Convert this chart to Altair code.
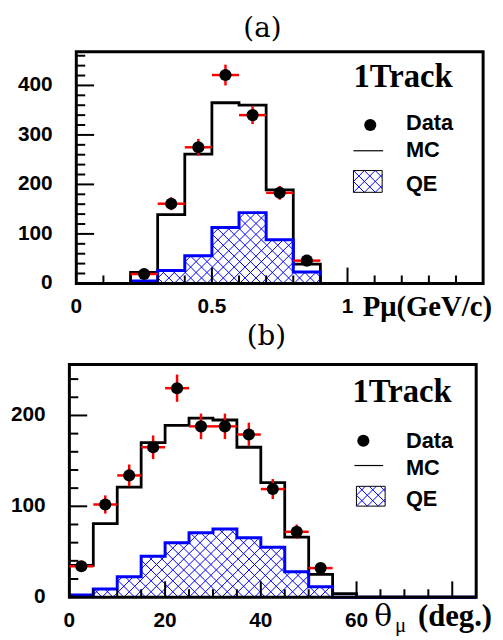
import altair as alt
import pandas as pd
import numpy as np

# ---------------- data : panel (a) ----------------
a_edges = [0.0, 0.1, 0.2, 0.3, 0.4, 0.5, 0.6, 0.7, 0.8, 0.9, 1.0, 1.1, 1.2, 1.3, 1.4, 1.5]
a_mc = [0, 0, 22, 139, 261, 365, 360, 189, 39, 0, 0, 0, 0, 0, 0]
a_qe = [0, 0, 5, 26, 56, 113, 143, 88, 23, 0, 0, 0, 0, 0, 0]
a_x = [0.25, 0.35, 0.45, 0.55, 0.65, 0.75, 0.85]
a_data = [19, 161, 275, 421, 340, 183, 46]
a_err = [4, 13, 17, 21, 18, 14, 7]
a_xtick_minor = [0.1, 0.2, 0.3, 0.4, 0.6, 0.7, 0.8, 0.9, 1.1, 1.2, 1.3, 1.4]
a_xtick_major = [0.5, 1.0]
a_ytick_minor = [20, 40, 60, 80, 120, 140, 160, 180, 220, 240, 260, 280,
                 320, 340, 360, 380, 420, 440, 460]
a_ytick_major = [100, 200, 300, 400]
a_xlab_val = [0, 0.5, 1.0]
a_xlab_txt = ["0", "0.5", "1"]
a_ylab_val = [0, 100, 200, 300, 400]
a_ylab_txt = ["0", "100", "200", "300", "400"]

# ---------------- data : panel (b) ----------------
b_edges = [0, 5, 10, 15, 20, 25, 30, 35, 40, 45, 50, 55, 60, 65, 70, 75, 80, 85]
b_mc = [35, 81, 121, 170, 189, 197, 195, 165, 126, 66, 25, 4, 0, 0, 0, 0, 0]
b_qe = [2.5, 9, 22.5, 45, 60, 71, 75, 65.5, 55, 28, 11.5, 0, 0, 0, 0, 0, 0]
b_x = [2.5, 7.5, 12.5, 17.5, 22.5, 27.5, 32.5, 37.5, 42.5, 47.5, 52.5]
b_data = [34, 102, 134, 165, 230, 188, 188, 179, 119, 72, 32]
b_err = [6, 10, 12, 13, 15, 14, 14, 13, 11, 8, 6]
b_xtick_minor = [5, 10, 15, 25, 30, 35, 45, 50, 55, 65, 70, 75]
b_xtick_major = [20, 40, 60, 80]
b_ytick_minor = [20, 40, 60, 80, 120, 140, 160, 180, 220, 240]
b_ytick_major = [100, 200]
b_xlab_val = [0, 20, 40, 60]
b_xlab_txt = ["0", "20", "40", "60"]
b_ylab_val = [0, 100, 200]
b_ylab_txt = ["0", "100", "200"]

SANS = "Liberation Sans"
SERIF = "Liberation Serif"
BLUE = "#0000ff"
RED = "#ff0000"

panels = [
    dict(name="a", L=69, R=480, T=41, B=275, xdom=[0, 1.5], ydom=[0, 468],
         edges=a_edges, mc=a_mc, qe=a_qe, px=a_x, py=a_data, pe=a_err, hw=0.05,
         xtmin=a_xtick_minor, xtmaj=a_xtick_major, ytmin=a_ytick_minor, ytmaj=a_ytick_major,
         xlv=a_xlab_val, xlt=a_xlab_txt, ylv=a_ylab_val, ylt=a_ylab_txt,
         label="(a)", label_pos=(257, 26), track_pos=(349, 77),
         leg=dict(dot=(366, 115), line=(349, 379, 141), box=(349, 378, 161, 183),
                  tx=402, ty=(120, 147, 182))),
    dict(name="b", L=62, R=473, T=357, B=592, xdom=[0, 85], ydom=[0, 256],
         edges=b_edges, mc=b_mc, qe=b_qe, px=b_x, py=b_data, pe=b_err, hw=2.5,
         xtmin=b_xtick_minor, xtmaj=b_xtick_major, ytmin=b_ytick_minor, ytmaj=b_ytick_major,
         xlv=b_xlab_val, xlt=b_xlab_txt, ylv=b_ylab_val, ylt=b_ylab_txt,
         label="(b)", label_pos=(261, 337), track_pos=(348, 395),
         leg=dict(dot=(359, 434), line=(350, 379, 459), box=(352, 381, 480, 500),
                  tx=402, ty=(441, 469, 500))),
]

one = pd.DataFrame({"k": [0]})


def xs(p, f="x"):
    return alt.X(f"{f}:Q", scale=alt.Scale(domain=p["xdom"], range=[p["L"], p["R"]],
                                           nice=False, zero=False), axis=None)


def ys(p, f="y"):
    return alt.Y(f"{f}:Q", scale=alt.Scale(domain=p["ydom"], range=[p["B"], p["T"]],
                                           nice=False, zero=False), axis=None)


def hatch_px(boxes, spacing):
    """boxes: list of (u0, u1, vt) in pixel units above a baseline; returns segments."""
    segs = []
    for (u0, u1, vt) in boxes:
        if vt <= 0:
            continue
        kmin = int(np.floor((u0 - vt) / spacing)) - 1
        kmax = int(np.ceil((u1 + vt) / spacing)) + 1
        for k in range(kmin, kmax + 1):
            c = k * spacing
            a, b = max(u0, c), min(u1, c + vt)          # v = u - c
            if b > a:
                segs.append((a, a - c, b, b - c))
            a, b = max(u0, c - vt), min(u1, c)          # v = c - u
            if b > a:
                segs.append((a, c - a, b, c - b))
    return segs


layers = []
for p in panels:
    L, R, T, B = p["L"], p["R"], p["T"], p["B"]
    sx = (R - L) / (p["xdom"][1] - p["xdom"][0])
    sy = (B - T) / (p["ydom"][1] - p["ydom"][0])

    # hatch of QE histogram (computed in pixel space for 45 deg lines, drawn via scales)
    boxes = [((p["edges"][i] - p["xdom"][0]) * sx, (p["edges"][i + 1] - p["xdom"][0]) * sx, v * sy)
             for i, v in enumerate(p["qe"])]
    segs = hatch_px(boxes, 11)
    hdf = pd.DataFrame([dict(x=p["xdom"][0] + a / sx, y=va / sy,
                             x2=p["xdom"][0] + b / sx, y2=vb / sy) for (a, va, b, vb) in segs])
    layers.append(alt.Chart(hdf).mark_rule(color=BLUE, strokeWidth=1).encode(
        x=xs(p), y=ys(p), x2="x2:Q", y2="y2:Q"))

    # MC histogram outline
    mdf = pd.DataFrame({"x": p["edges"], "y": p["mc"] + [p["mc"][-1]]})
    layers.append(alt.Chart(mdf).mark_line(interpolate="step-after", color="black",
                                           strokeWidth=2.8).encode(x=xs(p), y=ys(p)))
    # QE histogram outline
    qdf = pd.DataFrame({"x": p["edges"], "y": p["qe"] + [p["qe"][-1]]})
    layers.append(alt.Chart(qdf).mark_line(interpolate="step-after", color=BLUE,
                                           strokeWidth=3).encode(x=xs(p), y=ys(p)))

    # frame
    layers.append(alt.Chart(one).mark_rect(filled=False, stroke="black", strokeWidth=3).encode(
        x=alt.value(L), x2=alt.value(R), y=alt.value(T), y2=alt.value(B)))

    # inward ticks
    for vals, ln in ((p["xtmin"], 8), (p["xtmaj"], 16)):
        layers.append(alt.Chart(pd.DataFrame({"x": vals})).mark_rule(color="black", strokeWidth=2).encode(
            x=xs(p), y=alt.value(B), y2=alt.value(B - ln)))
    for vals, ln in ((p["ytmin"], 9), (p["ytmaj"], 18)):
        layers.append(alt.Chart(pd.DataFrame({"y": vals})).mark_rule(color="black", strokeWidth=2).encode(
            y=ys(p), x=alt.value(L), x2=alt.value(L + ln)))

    # tick labels
    layers.append(alt.Chart(pd.DataFrame({"x": p["xlv"], "t": p["xlt"]})).mark_text(
        font=SANS, fontWeight="bold", fontSize=21, align="center", baseline="top", color="black").encode(
        x=xs(p), y=alt.value(B + 13), text="t:N"))
    layers.append(alt.Chart(pd.DataFrame({"y": p["ylv"], "t": p["ylt"]})).mark_text(
        font=SANS, fontWeight="bold", fontSize=21, align="right", baseline="middle", color="black").encode(
        y=ys(p), x=alt.value(L - 24), text="t:N"))

    # data points with error bars
    ddf = pd.DataFrame({"x": p["px"], "y": p["py"], "e": p["pe"]})
    ddf["ylo"] = ddf["y"] - ddf["e"]
    ddf["yhi"] = ddf["y"] + ddf["e"]
    ddf["xlo"] = ddf["x"] - p["hw"]
    ddf["xhi"] = ddf["x"] + p["hw"]
    layers.append(alt.Chart(ddf).mark_rule(color=RED, strokeWidth=2.5).encode(
        x=xs(p, "xlo"), x2="xhi:Q", y=ys(p)))
    layers.append(alt.Chart(ddf).mark_rule(color=RED, strokeWidth=2.5).encode(
        x=xs(p), y=ys(p, "ylo"), y2="yhi:Q"))
    layers.append(alt.Chart(ddf).mark_circle(color="black", size=150, opacity=1).encode(
        x=xs(p), y=ys(p)))

    # panel label (a)/(b)
    lx, ly = p["label_pos"]
    layers.append(alt.Chart(one).mark_text(text=p["label"], font="DejaVu Serif", fontSize=28,
                                           align="center", baseline="alphabetic", color="black").encode(
        x=alt.value(lx), y=alt.value(ly)))
    # 1Track
    tx, ty = p["track_pos"]
    layers.append(alt.Chart(one).mark_text(text="1Track", font=SERIF, fontWeight="bold", fontSize=33,
                                           align="left", baseline="alphabetic", color="black").encode(
        x=alt.value(tx), y=alt.value(ty)))

    # legend
    lg = p["leg"]
    layers.append(alt.Chart(one).mark_circle(color="black", size=150, opacity=1).encode(
        x=alt.value(lg["dot"][0]), y=alt.value(lg["dot"][1])))
    layers.append(alt.Chart(one).mark_rule(color="black", strokeWidth=1.2).encode(
        x=alt.value(lg["line"][0]), x2=alt.value(lg["line"][1]), y=alt.value(lg["line"][2])))
    bx0, bx1, by0, by1 = lg["box"]
    lsegs = hatch_px([(0, bx1 - bx0, by1 - by0)], 11)
    ldf = pd.DataFrame([dict(x=bx0 + a, y=by1 - va, x2=bx0 + b, y2=by1 - vb) for (a, va, b, vb) in lsegs])
    layers.append(alt.Chart(ldf).mark_rule(color=BLUE, strokeWidth=1).encode(
        x=alt.X("x:Q", scale=None, axis=None), y=alt.Y("y:Q", scale=None, axis=None),
        x2="x2:Q", y2="y2:Q"))
    layers.append(alt.Chart(one).mark_rect(filled=False, stroke="black", strokeWidth=1).encode(
        x=alt.value(bx0), x2=alt.value(bx1), y=alt.value(by0), y2=alt.value(by1)))
    for txt, yy in zip(["Data", "MC", "QE"], lg["ty"]):
        layers.append(alt.Chart(one).mark_text(text=txt, font=SANS, fontWeight="bold", fontSize=22,
                                               align="left", baseline="alphabetic", color="black").encode(
            x=alt.value(lg["tx"]), y=alt.value(yy)))

# axis titles
layers.append(alt.Chart(one).mark_text(text="Pμ(GeV/c)", font=SERIF, fontWeight="bold", fontSize=29,
                                       align="right", baseline="alphabetic", color="black").encode(
    x=alt.value(489), y=alt.value(308)))
layers.append(alt.Chart(one).mark_text(text="θ", font="DejaVu Serif", fontSize=30,
                                       align="left", baseline="alphabetic", color="black").encode(
    x=alt.value(370), y=alt.value(621)))
layers.append(alt.Chart(one).mark_text(text="μ", font=SERIF, fontSize=21,
                                       align="left", baseline="alphabetic", color="black").encode(
    x=alt.value(391), y=alt.value(627)))
layers.append(alt.Chart(one).mark_text(text="(deg.)", font=SERIF, fontWeight="bold", fontSize=31,
                                       align="right", baseline="alphabetic", color="black").encode(
    x=alt.value(489), y=alt.value(621)))

chart = alt.layer(*layers).resolve_scale(x="independent", y="independent").properties(
    width=492, height=628, autosize=alt.AutoSizeParams(type="none"), padding=0
).configure_view(stroke=None)

chart.save("out.html", embed_options={"renderer": "svg", "actions": False})
